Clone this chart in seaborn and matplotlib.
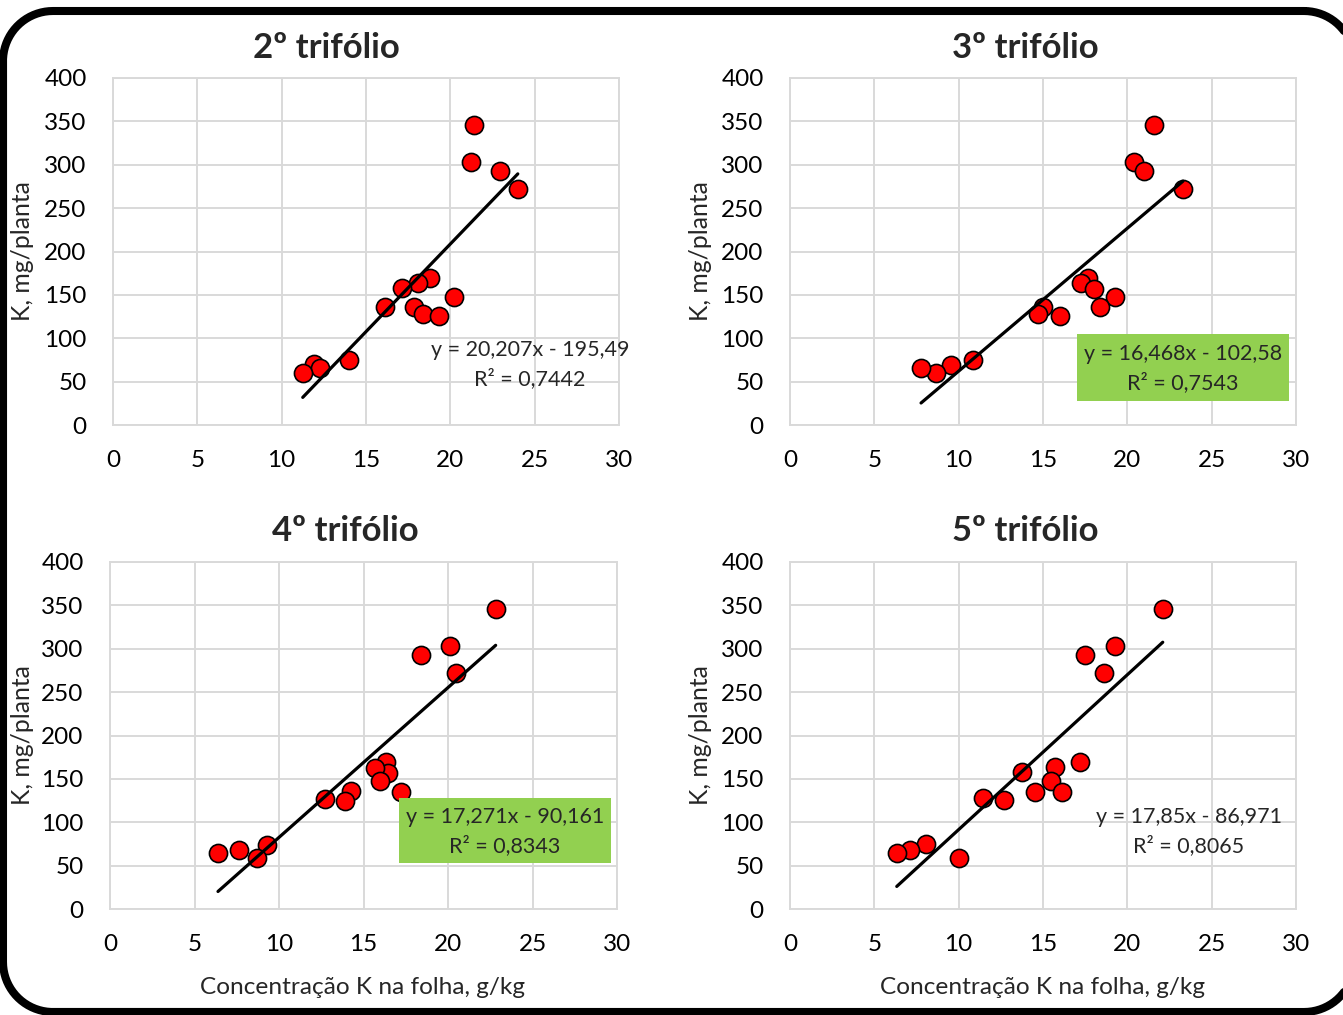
import numpy as np
import pandas as pd
import seaborn as sns
import matplotlib
matplotlib.use("Agg")
import matplotlib.pyplot as plt
from matplotlib.patches import Rectangle
from matplotlib.lines import Line2D

# ---------------- data ----------------
titles = ["2º trifólio", "3º trifólio", "4º trifólio", "5º trifólio"]

x_2 = [21.4, 21.2, 22.95, 24.0, 18.8, 18.1, 17.15, 16.1, 17.85, 18.35, 19.35, 20.2, 14.0, 11.9, 12.25, 11.25]
y_2 = [346, 303, 293, 272, 170, 164, 158, 136, 136, 128, 126, 148, 75, 70, 66, 60]

x_3 = [21.6, 20.4, 21.0, 23.3, 17.65, 17.26, 18.03, 19.27, 18.35, 15.0, 14.73, 16.0, 10.87, 9.55, 8.66, 7.77]
y_3 = [346, 303, 293, 272, 170, 164, 157, 148, 136, 136, 128, 126, 75, 69, 60, 66]

x_4 = [22.82, 20.1, 18.38, 20.5, 16.35, 16.43, 15.66, 15.96, 17.2, 14.28, 12.72, 13.9, 9.3, 7.63, 6.39, 8.7]
y_4 = [346, 303, 293, 272, 170, 157, 163, 147, 135, 136, 127, 125, 74, 68, 65, 59]

x_5 = [22.1, 19.25, 17.47, 18.6, 17.18, 15.7, 15.5, 13.73, 14.55, 16.15, 11.46, 12.68, 8.07, 7.12, 6.33, 10.03]
y_5 = [346, 303, 293, 272, 170, 164, 147, 158, 135, 135, 128, 126, 75, 68, 65, 59]

slopes = [20.207, 16.468, 17.271, 17.85]
intercepts = [-195.49, -102.58, -90.161, -86.971]
eq_texts = ["y = 20,207x - 195,49", "y = 16,468x - 102,58", "y = 17,271x - 90,161", "y = 17,85x - 86,971"]
r2_texts = ["R² = 0,7442", "R² = 0,7543", "R² = 0,8343", "R² = 0,8065"]

x_ticks = [0, 5, 10, 15, 20, 25, 30]
y_ticks = [0, 50, 100, 150, 200, 250, 300, 350, 400]
ylabel = "K, mg/planta"
xlabel = "Concentração K na folha, g/kg"

xs = [x_2, x_3, x_4, x_5]
ys = [y_2, y_3, y_4, y_5]

# ---------------- style ----------------
sns.set_style("white")
plt.rcParams['font.family'] = ['Lato', 'DejaVu Sans']

W, H = 1343, 1015
fig = plt.figure(figsize=(W / 100, H / 100), dpi=100)

def fx(px):
    return px / W

def fy(py):
    return 1 - py / H

# axes boxes in pixels: left, right, top, bottom
boxes = [(113, 619, 78, 425), (790, 1296, 78, 425), (110, 617, 562, 909), (790, 1296, 562, 909)]
title_pos = [(326, 48), (1025, 48), (345, 531), (1025, 531)]
ylab_pos = [(23, 251), (701, 251), (23, 735), (701, 735)]
xlab_pos = [None, None, (363, 987), (1043, 987)]
eq_pos = [(530, 350), (1183, 354), (505, 817), (1189, 817)]
green_boxes = [None, (1077, 334, 1289, 401), (399, 798, 611, 863), None]

grid_c = "#D9D9D9"

for i in range(4):
    l, r, t, b = boxes[i]
    ax = fig.add_axes([fx(l), fy(b), fx(r - l), (b - t) / H])
    df = pd.DataFrame({"x": xs[i], "y": ys[i]})
    sns.scatterplot(data=df, x="x", y="y", ax=ax, color="#FF0000", edgecolor="black",
                    s=170, linewidth=1.2, zorder=3, legend=False)
    xmin, xmax = min(xs[i]), max(xs[i])
    lx = np.array([xmin, xmax])
    ly = slopes[i] * lx + intercepts[i]
    sns.lineplot(x=lx, y=ly, ax=ax, color="black", linewidth=2.3, zorder=4, legend=False)

    ax.set_xlim(0, 30)
    ax.set_ylim(0, 400)
    ax.set_xticks(x_ticks)
    ax.set_yticks(y_ticks)
    ax.set_xticklabels([str(v) for v in x_ticks])
    ax.set_yticklabels([str(v) for v in y_ticks])
    ax.grid(True, color=grid_c, linewidth=1.4, zorder=0)
    ax.set_axisbelow(True)
    for s in ax.spines.values():
        s.set_color(grid_c)
        s.set_linewidth(1.4)
    ax.tick_params(axis="both", length=0, labelsize=17.5, colors="black")
    ax.tick_params(axis="y", pad=19)
    ax.tick_params(axis="x", pad=18)
    ax.set_xlabel("")
    ax.set_ylabel("")

    fig.text(fx(title_pos[i][0]), fy(title_pos[i][1]), titles[i], ha="center", va="center",
             fontsize=25, fontweight="bold")
    fig.text(fx(ylab_pos[i][0]), fy(ylab_pos[i][1]), ylabel, ha="center", va="center",
             rotation=90, fontsize=17.8)
    if xlab_pos[i] is not None:
        fig.text(fx(xlab_pos[i][0]), fy(xlab_pos[i][1]), xlabel, ha="center", va="center",
                 fontsize=17.6)
    if green_boxes[i] is not None:
        gx0, gy0, gx1, gy1 = green_boxes[i]
        fig.add_artist(Rectangle((fx(gx0), fy(gy1)), fx(gx1 - gx0), (gy1 - gy0) / H,
                                 transform=fig.transFigure, facecolor="#92D050",
                                 edgecolor="none", zorder=5))
    ex, ey = eq_pos[i]
    fig.text(fx(ex), fy(ey), eq_texts[i], ha="center", va="center", fontsize=15.5, zorder=6)
    fig.text(fx(ex), fy(ey + 29), r2_texts[i], ha="center", va="center", fontsize=15.5, zorder=6)

# rounded outer border drawn as a path in pixel coordinates
bl, br, bt, bb, rad = 3, 1354, 11, 1012, 50
def arc(cx, cy, a0, a1):
    a = np.linspace(np.radians(a0), np.radians(a1), 40)
    return cx + rad * np.cos(a), cy - rad * np.sin(a)
segs = [arc(br - rad, bt + rad, 90, 0), arc(br - rad, bb - rad, 0, -90),
        arc(bl + rad, bb - rad, -90, -180), arc(bl + rad, bt + rad, 180, 90)]
px = np.concatenate([s[0] for s in segs] + [segs[0][0][:1]])
py = np.concatenate([s[1] for s in segs] + [segs[0][1][:1]])
fig.add_artist(Line2D(px / W, 1 - py / H, transform=fig.transFigure, color="black",
                      linewidth=5.8, solid_joinstyle="round", zorder=10))

fig.savefig("out.png", dpi=100)
